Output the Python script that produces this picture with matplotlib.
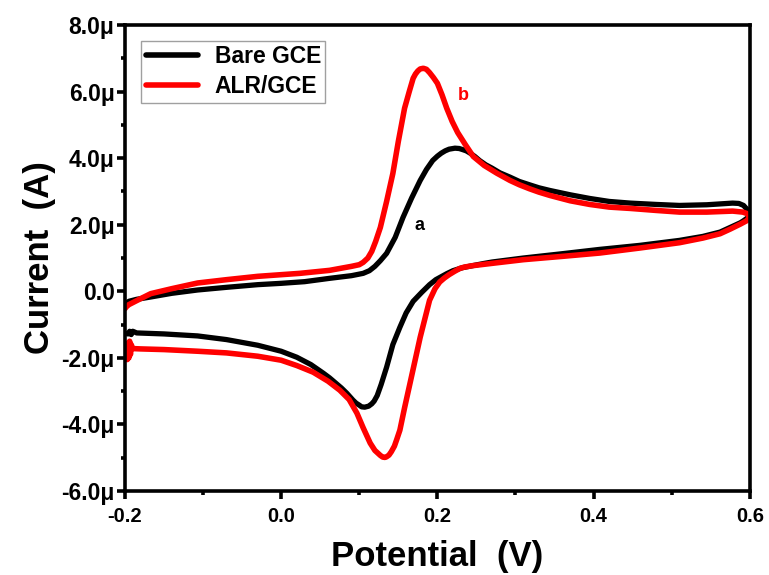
import numpy as np
import matplotlib
matplotlib.use("Agg")
import matplotlib.pyplot as plt
from matplotlib.ticker import MultipleLocator, FuncFormatter

plt.rcParams['font.family'] = ['Liberation Sans', 'DejaVu Sans']
plt.rcParams['font.weight'] = 'bold'

# cyclic voltammograms, potential in V, current in uA
# bare GCE: forward scan then reverse scan
bare_v = [-0.2, -0.198, -0.195, -0.185, -0.167, -0.14, -0.107, -0.07, -0.03, 0.0, 0.03,
          0.062, 0.09, 0.105, 0.113, 0.12, 0.127, 0.135, 0.146, 0.156, 0.167, 0.178,
          0.186, 0.194, 0.2, 0.205, 0.21, 0.215, 0.2225, 0.228, 0.232, 0.237, 0.242,
          0.248, 0.254, 0.262, 0.27, 0.28, 0.293, 0.305, 0.318, 0.33, 0.344, 0.37,
          0.395, 0.42, 0.447, 0.48, 0.51, 0.545, 0.578, 0.586, 0.592, 0.597, 0.6,
          0.598, 0.592, 0.588, 0.575, 0.562, 0.54, 0.51, 0.459, 0.408, 0.36, 0.31, 0.27,
          0.258, 0.245, 0.232, 0.22, 0.212, 0.205, 0.198, 0.19, 0.18, 0.169, 0.16,
          0.152, 0.143, 0.135, 0.128, 0.123, 0.119, 0.116, 0.112, 0.107, 0.103, 0.1,
          0.096, 0.092, 0.084, 0.077, 0.07, 0.062, 0.054, 0.038, 0.02, 0.0,
          -0.03, -0.07, -0.107, -0.15, -0.185, -0.19, -0.192, -0.194, -0.196, -0.2]
bare_i = [-0.42, -0.36, -0.3, -0.24, -0.17, -0.06, 0.04, 0.12, 0.2, 0.24, 0.29,
          0.39, 0.47, 0.54, 0.62, 0.75, 0.92, 1.14, 1.62, 2.22, 2.8, 3.33,
          3.66, 3.93, 4.06, 4.15, 4.22, 4.27, 4.3, 4.29, 4.26, 4.22, 4.15,
          4.05, 3.93, 3.8, 3.7, 3.56, 3.43, 3.3, 3.2, 3.11, 3.03, 2.9,
          2.79, 2.7, 2.65, 2.61, 2.58, 2.6, 2.65, 2.64, 2.58, 2.45, 2.3,
          2.22, 2.12, 2.06, 1.92, 1.78, 1.65, 1.53, 1.38, 1.26, 1.13, 1.0, 0.88,
          0.83, 0.77, 0.71, 0.62, 0.53, 0.44, 0.35, 0.2, -0.03, -0.3, -0.65,
          -1.08, -1.6, -2.28, -2.8, -3.13, -3.3, -3.38, -3.45, -3.48, -3.47, -3.42,
          -3.36, -3.27, -3.06, -2.9, -2.76, -2.6, -2.46, -2.2, -1.98, -1.8,
          -1.62, -1.45, -1.34, -1.28, -1.25, -1.2, -1.3, -1.2, -1.28, -1.26]

# ALR/GCE
alr_v = [-0.2, -0.198, -0.195, -0.185, -0.167, -0.14, -0.107, -0.07, -0.03, 0.0, 0.024,
         0.062, 0.09, 0.1, 0.105, 0.111, 0.116, 0.121, 0.127, 0.135, 0.143, 0.15,
         0.158, 0.164, 0.169, 0.172, 0.175, 0.178, 0.182, 0.186, 0.19, 0.195, 0.2,
         0.206, 0.212, 0.219, 0.226, 0.236, 0.246, 0.26, 0.276, 0.293, 0.305, 0.318,
         0.33, 0.344, 0.37, 0.395, 0.42, 0.447, 0.48, 0.51, 0.545, 0.578, 0.591,
         0.596, 0.599, 0.599,
         0.596, 0.588, 0.575, 0.562, 0.54, 0.51, 0.459, 0.408, 0.36, 0.31, 0.27,
         0.245, 0.235, 0.229, 0.222, 0.215, 0.209, 0.203, 0.197, 0.19, 0.178, 0.165,
         0.158, 0.152, 0.148, 0.145, 0.141, 0.138, 0.135, 0.133, 0.13, 0.127, 0.12,
         0.114, 0.105, 0.097, 0.087, 0.075, 0.06, 0.041, 0.02,
         0.0, -0.03, -0.07, -0.107, -0.15, -0.18, -0.19, -0.192, -0.193, -0.194,
         -0.195, -0.196, -0.197, -0.198, -0.199, -0.2]
alr_i = [-0.52, -0.46, -0.4, -0.28, -0.07, 0.08, 0.25, 0.35, 0.45, 0.5, 0.54,
         0.63, 0.75, 0.8, 0.87, 1.0, 1.2, 1.5, 1.92, 2.7, 3.54, 4.5,
         5.5, 6.0, 6.4, 6.53, 6.62, 6.68, 6.7, 6.67, 6.57, 6.42, 6.25,
         5.9, 5.5, 5.1, 4.77, 4.4, 4.05, 3.78, 3.55, 3.33, 3.2, 3.08,
         2.98, 2.88, 2.72, 2.61, 2.53, 2.49, 2.43, 2.38, 2.38, 2.41, 2.38,
         2.34, 2.28, 2.2,
         2.12, 2.02, 1.87, 1.73, 1.6, 1.46, 1.3, 1.15, 1.05, 0.95, 0.84,
         0.77, 0.73, 0.69, 0.6, 0.5, 0.4, 0.28, 0.08, -0.27, -1.38, -2.76,
         -3.5, -4.17, -4.45, -4.65, -4.82, -4.92, -4.97, -4.99, -4.98, -4.93, -4.78,
         -4.56, -4.1, -3.66, -3.25, -2.97, -2.7, -2.43, -2.23,
         -2.07, -1.95, -1.85, -1.8, -1.75, -1.73, -1.72, -1.6, -1.9, -1.5,
         -2.0, -1.55, -2.05, -1.6, -1.95, -1.75]

fig = plt.figure(figsize=(7.69, 5.75), dpi=100)
ax = fig.add_axes([0.1625, 0.146, 0.8125, 0.8105])

ax.plot(bare_v, bare_i, color='black', lw=3.8, label='Bare GCE',
        solid_joinstyle='round', solid_capstyle='round')
ax.plot(alr_v, alr_i, color='#ff0000', lw=4.0, label='ALR/GCE',
        solid_joinstyle='round', solid_capstyle='round')

ax.set_xlim(-0.2, 0.6)
ax.set_ylim(-6.0, 8.0)
ax.xaxis.set_major_locator(MultipleLocator(0.2))
ax.xaxis.set_minor_locator(MultipleLocator(0.1))
ax.yaxis.set_major_locator(MultipleLocator(2.0))
ax.yaxis.set_minor_locator(MultipleLocator(1.0))
ax.xaxis.set_major_formatter(FuncFormatter(lambda v, p: f"{v:.1f}"))
ax.yaxis.set_major_formatter(FuncFormatter(lambda v, p: "0.0" if abs(v) < 1e-9 else f"{v:.1f}\u03bc"))

for s in ax.spines.values():
    s.set_linewidth(2.6)
ax.tick_params(which='major', direction='out', length=5.5, width=2.6)
ax.tick_params(which='minor', direction='out', length=3, width=2.6)
ax.tick_params(axis='x', which='major', labelsize=14.5, pad=6)
ax.tick_params(axis='y', which='major', labelsize=16.5, pad=2)
for lbl in ax.get_xticklabels() + ax.get_yticklabels():
    lbl.set_fontweight('bold')

ax.set_xlabel('Potential  (V)', fontsize=25, fontweight='bold', labelpad=10)
ax.set_ylabel('Current  (A)', fontsize=25, fontweight='bold', labelpad=4)

ax.text(0.171, 1.85, 'a', color='black', fontsize=13, fontweight='bold')
ax.text(0.226, 5.75, 'b', color='#ff0000', fontsize=13, fontweight='bold')

leg = ax.legend(loc='upper left', bbox_to_anchor=(0.026, 0.966), fontsize=16.5, frameon=True,
                fancybox=False, edgecolor='#888888', handlelength=2.3, handletextpad=0.7,
                borderpad=0.2, labelspacing=0.3, borderaxespad=0.0)
leg.get_frame().set_linewidth(1.0)
for t in leg.get_texts():
    t.set_fontweight('bold')
for h in leg.get_lines():
    h.set_linewidth(4.0)

fig.savefig('out.png', dpi=100)
